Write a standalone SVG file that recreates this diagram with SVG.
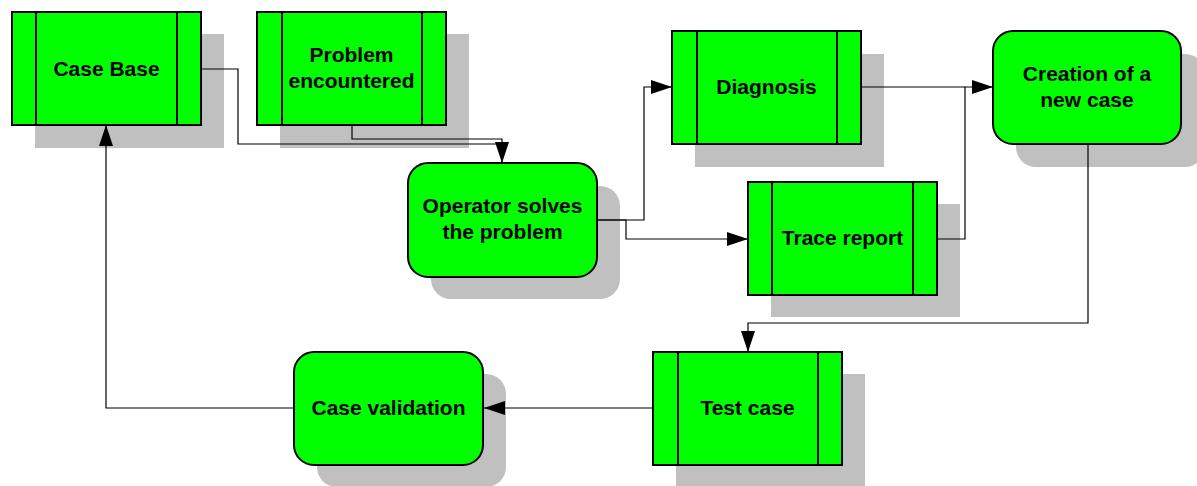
<svg xmlns="http://www.w3.org/2000/svg" width="1197" height="486" viewBox="0 0 1197 486">
<style>
.sh{fill:#c0c0c0;stroke:none}
.bx{fill:#00ff00;stroke:#000;stroke-width:2}
.ln{stroke:#000;stroke-width:2;fill:none}
.t{font-family:"Liberation Sans",Arial,sans-serif;font-weight:bold;font-size:21px;fill:#000;text-anchor:middle}
.c{fill:none;stroke:#000;stroke-width:1.2;marker-end:url(#ah)}
.cn{fill:none;stroke:#000;stroke-width:1.2}
</style>
<defs>
<marker id="ah" markerUnits="userSpaceOnUse" markerWidth="21" markerHeight="14" refX="21" refY="7" orient="auto" overflow="visible">
<path d="M0,0 L21,7 L0,14 z" fill="#000"/>
</marker>
</defs>
<rect width="1197" height="486" fill="#fff"/>
<g id="case-base">
<rect class="sh" x="35" y="34" width="189" height="114"/>
<rect class="bx" x="12" y="12" width="189" height="113"/>
<line class="ln" x1="36" y1="12" x2="36" y2="125"/>
<line class="ln" x1="177" y1="12" x2="177" y2="125"/>
<text class="t" x="106.5" y="76">Case Base</text>
</g>
<g id="problem-encountered">
<rect class="sh" x="280" y="34" width="189" height="114"/>
<rect class="bx" x="257" y="12" width="189" height="113"/>
<line class="ln" x1="282" y1="12" x2="282" y2="125"/>
<line class="ln" x1="422" y1="12" x2="422" y2="125"/>
<text class="t" x="351.5" y="62">Problem</text>
<text class="t" x="351.5" y="88">encountered</text>
</g>
<g id="diagnosis">
<rect class="sh" x="695" y="54" width="189" height="113"/>
<rect class="bx" x="672" y="31" width="189" height="113"/>
<line class="ln" x1="697" y1="31" x2="697" y2="144"/>
<line class="ln" x1="837" y1="31" x2="837" y2="144"/>
<text class="t" x="766.5" y="94">Diagnosis</text>
</g>
<g id="creation">
<rect class="sh" x="1016" y="54" width="189" height="113" rx="20"/>
<rect class="bx" x="993" y="31" width="188" height="113" rx="20"/>
<text class="t" x="1087" y="81">Creation of a</text>
<text class="t" x="1087" y="107">new case</text>
</g>
<g id="operator">
<rect class="sh" x="431" y="186" width="189" height="113" rx="20"/>
<rect class="bx" x="408" y="163" width="189" height="114" rx="20"/>
<text class="t" x="502.5" y="213">Operator solves</text>
<text class="t" x="502.5" y="239">the problem</text>
</g>
<g id="trace-report">
<rect class="sh" x="771" y="204" width="189" height="113"/>
<rect class="bx" x="748" y="182" width="189" height="113"/>
<line class="ln" x1="772" y1="182" x2="772" y2="295"/>
<line class="ln" x1="913" y1="182" x2="913" y2="295"/>
<text class="t" x="842.5" y="245">Trace report</text>
</g>
<g id="test-case">
<rect class="sh" x="676" y="374" width="189" height="113"/>
<rect class="bx" x="653" y="352" width="189" height="113"/>
<line class="ln" x1="678" y1="352" x2="678" y2="465"/>
<line class="ln" x1="818" y1="352" x2="818" y2="465"/>
<text class="t" x="747.5" y="415">Test case</text>
</g>
<g id="case-validation">
<rect class="sh" x="317" y="374" width="189" height="113" rx="20"/>
<rect class="bx" x="294" y="352" width="189" height="113" rx="20"/>
<text class="t" x="388.5" y="415">Case validation</text>
</g>
<g id="connectors">
<path class="cn" d="M201,69 H238 V144 H502"/>
<path class="c" d="M352,125 V139 H502 V163"/>
<path class="c" d="M597,220 H644 V87 H672"/>
<path class="c" d="M597,220 H626 V239 H748"/>
<path class="cn" d="M861,87 H965"/>
<path class="c" d="M937,239 H965 V87 H993"/>
<path class="c" d="M1088,144 V323 H748 V352"/>
<path class="c" d="M653,408 H484"/>
<path class="c" d="M294,408 H106 V125"/>
</g>
</svg>
